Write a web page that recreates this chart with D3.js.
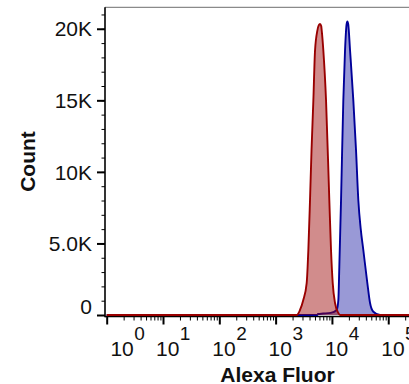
<!DOCTYPE html>
<html>
<head>
<meta charset="utf-8">
<script src="https://cdn.jsdelivr.net/npm/d3@7"></script>
<style>
  html, body { margin: 0; padding: 0; background: #fff; }
  svg { display: block; font-family: "Liberation Sans", Arial, sans-serif; }
</style>
</head>
<body>
<svg id="chart" width="409" height="384"></svg>
<script>
// Histogram outlines: fluorescence intensity (x) and event count (y)
const redX = [1, 2370, 2710, 3100, 3560, 3810, 4080, 4340, 4680, 5010, 5510, 5850, 6150, 6450, 6590, 7040, 7860, 8990, 9640, 10330, 11350, 13000, 13930, 1.25e6];
const redY = [0, 0, 350, 1050, 2230, 4530, 8020, 11500, 15000, 18480, 19870, 20250, 20340, 20200, 19870, 18480, 15000, 8020, 4530, 2230, 840, 140, 0, 0];

const blueX = [1, 5500, 5660, 7000, 9500, 12170, 13000, 13530, 14510, 15930, 17080, 18200, 18790, 19500, 20990, 23990, 26800, 29440, 32500, 36120, 42560, 47530, 54380, 71500, 1.25e6];
const blueY = [0, 0, 70, 100, 150, 350, 1050, 3370, 8020, 15000, 18480, 20300, 20520, 20300, 18480, 15000, 11500, 8020, 6000, 4530, 2230, 840, 230, 0, 0];

// Axis ticks
const yMajor = [0, 5000, 10000, 15000, 20000];
const yLabels = ["0", "5.0K", "10K", "15K", "20K"];
const xExponents = [0, 1, 2, 3, 4, 5];

const svg = d3.select("#chart");
const plotLeft = 105, plotTop = 7.3, plotRight = 450, plotBottom = 315;

const x = d3.scaleLog().domain([0.933, 1.25e6]).range([plotLeft, plotRight]);
const y = d3.scaleLinear().domain([0, 21500]).range([plotBottom, plotTop]);

svg.append("defs").append("clipPath").attr("id", "plotClip")
  .append("rect").attr("x", plotLeft).attr("y", plotTop - 2)
  .attr("width", plotRight - plotLeft).attr("height", plotBottom - plotTop + 4);

// plot frame (top edge)
svg.append("line").attr("x1", plotLeft).attr("x2", plotRight).attr("y1", plotTop).attr("y2", plotTop)
  .attr("stroke", "#8a8a8a").attr("stroke-width", 1.2);

const area = d3.area()
  .x(d => x(d[0])).y0(y(0)).y1(d => y(d[1]))
  .curve(d3.curveMonotoneX);
const line = d3.line()
  .x(d => x(d[0])).y(d => y(d[1]))
  .curve(d3.curveMonotoneX);

const series = [
  { xs: blueX, ys: blueY, fill: "rgb(0,0,153)", fillOpacity: 0.4, stroke: "#000099" },
  { xs: redX, ys: redY, fill: "rgb(153,0,0)", fillOpacity: 0.45, stroke: "#990000" }
];

// x axis line under the histogram baselines
svg.append("line").attr("x1", plotLeft).attr("x2", plotRight)
  .attr("y1", plotBottom + 1.5).attr("y2", plotBottom + 1.5)
  .attr("stroke", "#000").attr("stroke-width", 1.6);

const g = svg.append("g").attr("clip-path", "url(#plotClip)");
series.forEach(s => {
  const pts = s.xs.map((v, i) => [v, s.ys[i]]);
  g.append("path").datum(pts).attr("d", area)
    .attr("fill", s.fill).attr("fill-opacity", s.fillOpacity).attr("stroke", "none");
  g.append("path").datum(pts).attr("d", line)
    .attr("fill", "none").attr("stroke", s.stroke).attr("stroke-width", 1.9)
    .attr("stroke-linejoin", "round");
});

// Y axis: minor ticks every 1K, major ticks every 5K
const yMinorAxis = svg.append("g").attr("transform", `translate(${plotLeft},0)`)
  .call(d3.axisLeft(y).tickValues(d3.range(0, 21001, 1000)).tickSize(3.5).tickFormat(""));
yMinorAxis.select(".domain").remove();
yMinorAxis.selectAll(".tick line").attr("stroke", "#000").attr("stroke-width", 1);

const yAxis = svg.append("g").attr("transform", `translate(${plotLeft},0)`)
  .call(d3.axisLeft(y).tickValues(yMajor).tickSize(8).tickPadding(5)
    .tickFormat((d, i) => yLabels[i]));
yAxis.select(".domain").attr("stroke", "#000").attr("stroke-width", 1.6)
  .attr("d", `M0,${plotTop}V${plotBottom + 2.3}`);
yAxis.selectAll(".tick line").attr("stroke", "#000").attr("stroke-width", 2);
yAxis.selectAll(".tick text")
  .style("font-size", "21px").attr("fill", "#111")
  .attr("dy", d => d === 0 ? "-0.05em" : "0.34em");

// X axis: log minor ticks and decade majors
const minorVals = [];
for (let e = 0; e <= 6; e++) for (let k = 2; k <= 9; k++) minorVals.push(k * Math.pow(10, e));
const xMinorAxis = svg.append("g").attr("transform", `translate(0,${plotBottom + 1.5})`)
  .call(d3.axisBottom(x).tickValues(minorVals.filter(v => v < 1.25e6)).tickSize(4).tickFormat(""));
xMinorAxis.select(".domain").remove();
xMinorAxis.selectAll(".tick line").attr("stroke", "#000").attr("stroke-width", 1);

const xAxis = svg.append("g").attr("transform", `translate(0,${plotBottom + 1.5})`)
  .call(d3.axisBottom(x).tickValues(xExponents.map(e => Math.pow(10, e))).tickSize(8).tickFormat(""));
xAxis.select(".domain").remove();
xAxis.selectAll(".tick line").attr("stroke", "#000").attr("stroke-width", 2);

// Decade labels: "10" followed by a raised exponent of nearly the same size
xExponents.forEach(e => {
  const px = Math.max(x(Math.pow(10, e)) - 7, 110.4);
  const base = svg.append("text").attr("x", px).attr("y", 355.7)
    .style("font-size", "21px").attr("fill", "#111").text("10");
  const w = base.node().getComputedTextLength();
  svg.append("text").attr("x", px + w + 0.5).attr("y", 340)
    .style("font-size", "19px").attr("fill", "#111").text(String(e));
});

// Axis titles
svg.append("text").attr("x", 277.5).attr("y", 381.5).attr("text-anchor", "middle")
  .style("font-size", "21px").attr("font-weight", "bold").attr("fill", "#111").text("Alexa Fluor");
svg.append("text").attr("transform", "translate(35,161.5) rotate(-90)").attr("text-anchor", "middle")
  .style("font-size", "21px").attr("font-weight", "bold").attr("fill", "#111").text("Count");
</script>
</body>
</html>
